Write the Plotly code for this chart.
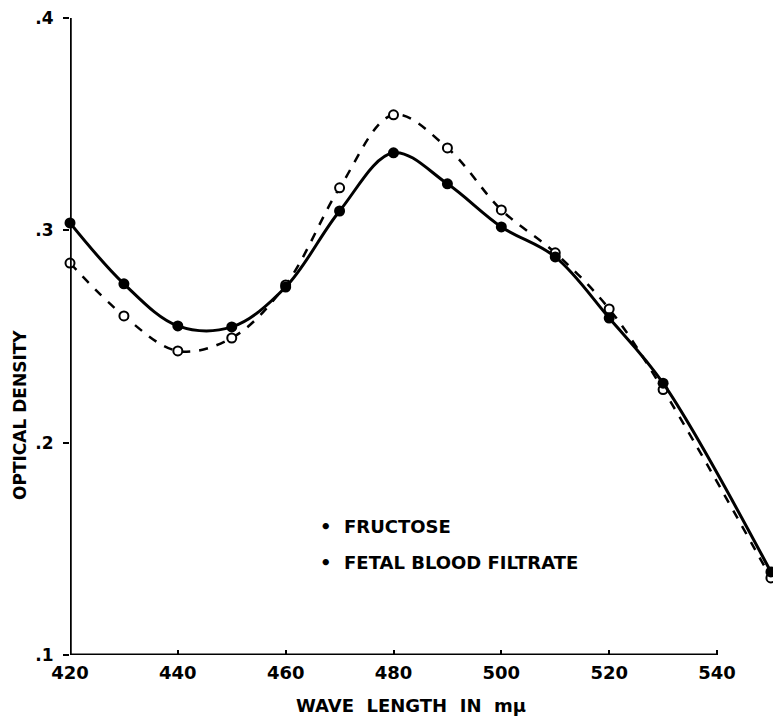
import plotly.graph_objects as go

# Data
wavelength = [420, 430, 440, 450, 460, 470, 480, 490, 500, 510, 520, 530, 550]
fructose = [0.3035, 0.2748, 0.2550, 0.2545, 0.2733, 0.3091, 0.3365, 0.3219, 0.3016, 0.2875, 0.2587, 0.2280, 0.1391]
fetal_blood = [0.2846, 0.2597, 0.2432, 0.2493, 0.2743, 0.3200, 0.3544, 0.3388, 0.3096, 0.2894, 0.2630, 0.2250, 0.1363]

x_ticks = [420, 440, 460, 480, 500, 520, 540]
y_ticks = [0.1, 0.2, 0.3, 0.4]
y_tick_text = [".1", ".2", ".3", ".4"]
legend_labels = ["FRUCTOSE", "FETAL BLOOD FILTRATE"]
x_title = "WAVE LENGTH IN mμ"
y_title = "OPTICAL DENSITY"

FONT = "DejaVu Sans"

fig = go.Figure()

fig.add_trace(go.Scatter(
    x=wavelength, y=fetal_blood, mode="lines+markers",
    line=dict(color="black", width=2.5, dash="dash", shape="spline", smoothing=1.0),
    marker=dict(symbol="circle", size=9, color="white", line=dict(color="black", width=2)),
    cliponaxis=False, showlegend=False,
))
fig.add_trace(go.Scatter(
    x=wavelength, y=fructose, mode="lines+markers",
    line=dict(color="black", width=3, shape="spline", smoothing=1.0),
    marker=dict(symbol="circle", size=11, color="black"),
    cliponaxis=False, showlegend=False,
))

# axis lines (only spanning the labelled range)
fig.add_shape(type="line", xref="x", yref="y", x0=x_ticks[0], x1=x_ticks[-1], y0=y_ticks[0], y1=y_ticks[0],
              line=dict(color="black", width=3))
fig.add_shape(type="line", xref="x", yref="y", x0=x_ticks[0], x1=x_ticks[0], y0=y_ticks[0], y1=y_ticks[-1],
              line=dict(color="black", width=3.5))

# legend as text
legend_y = [0.1603, 0.1438]
for lab, ly in zip(legend_labels, legend_y):
    fig.add_annotation(x=466.0, y=ly, xref="x", yref="y", text="<b>•  " + lab + "</b>",
                       showarrow=False, xanchor="left", yanchor="middle",
                       font=dict(family=FONT, size=18, color="black"))

# axis titles
fig.add_annotation(x=0.486, y=-0.079, xref="paper", yref="paper",
                   text="<b>" + x_title.replace(" ", "\u00a0\u00a0") + "</b>",
                   showarrow=False, xanchor="center", yanchor="middle",
                   font=dict(family=FONT, size=18, color="black"))
fig.add_annotation(x=-0.071, y=0.377, xref="paper", yref="paper", text="<b>" + y_title + "</b>",
                   showarrow=False, xanchor="center", yanchor="middle", textangle=-90,
                   font=dict(family=FONT, size=17, color="black"))

fig.update_layout(
    width=773, height=719,
    margin=dict(l=70, r=1, t=18, b=64),
    paper_bgcolor="white", plot_bgcolor="white",
    font=dict(family=FONT, color="black"),
    xaxis=dict(
        range=[420, 550.2], showgrid=False, zeroline=False, showline=False, automargin=False,
        tickvals=x_ticks, ticktext=["<b>%d</b>" % v for v in x_ticks],
        ticks="inside", ticklen=5, tickwidth=2, tickcolor="black", ticklabelstandoff=5,
        tickfont=dict(family=FONT, size=18, color="black"),
    ),
    yaxis=dict(
        range=[0.1, 0.4], showgrid=False, zeroline=False, showline=False, automargin=False,
        tickvals=y_ticks, ticktext=["<b>%s</b>" % t for t in y_tick_text],
        ticks="outside", ticklen=6, tickwidth=2, tickcolor="black", ticklabelstandoff=6,
        ticklabeloverflow="allow",
        tickfont=dict(family=FONT, size=17, color="black"),
    ),
)

# remove the default page margin and scrollbars so the figure fills the window exactly
fig.write_html(
    "out.html",
    config={"displayModeBar": False},
    post_script="document.documentElement.style.overflow='hidden';"
                "document.body.style.margin='0';document.body.style.overflow='hidden';",
)
